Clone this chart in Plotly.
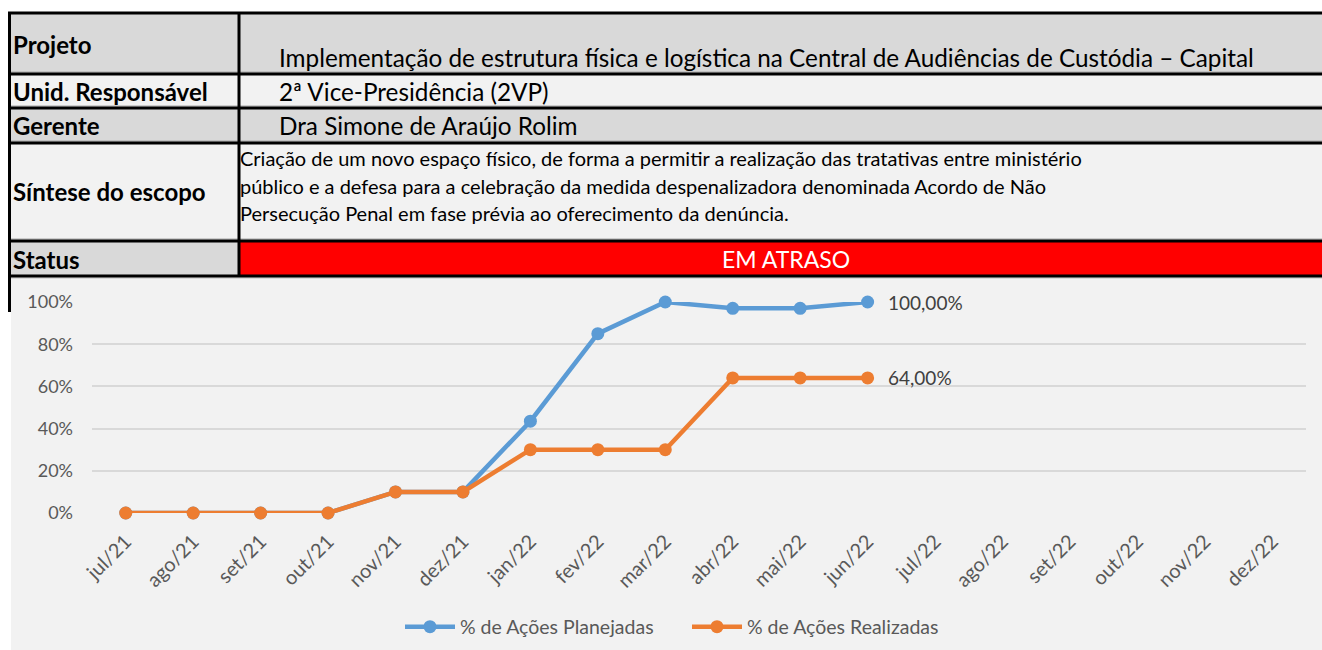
import plotly.graph_objects as go

W, H = 1322, 650

# ---- data ----
months = ["jul/21", "ago/21", "set/21", "out/21", "nov/21", "dez/21",
          "jan/22", "fev/22", "mar/22", "abr/22", "mai/22", "jun/22",
          "jul/22", "ago/22", "set/22", "out/22", "nov/22", "dez/22"]
planned = [0.0, 0.0, 0.0, 0.0, 0.10, 0.10, 0.435, 0.85, 1.00, 0.97, 0.97, 1.00]
realized = [0.0, 0.0, 0.0, 0.0, 0.10, 0.10, 0.30, 0.30, 0.30, 0.64, 0.64, 0.64]
series_names = ["% de Ações Planejadas", "% de Ações Realizadas"]
row_labels = ["Projeto", "Unid. Responsável", "Gerente", "Síntese do escopo", "Status"]
projeto = "Implementação de estrutura física e logística na Central de Audiências de Custódia – Capital"
unidade = "2ª Vice-Presidência (2VP)"
gerente = "Dra Simone de Araújo Rolim"
sintese = ["Criação de um novo espaço físico, de forma a permitir a realização das tratativas entre ministério",
           "público e a defesa para a celebração da medida despenalizadora denominada Acordo de Não",
           "Persecução Penal em fase prévia ao oferecimento da denúncia."]
status = "EM ATRASO"

FONT = "Lato"
BLUE = "#5b9bd5"
ORANGE = "#ed7d31"
GREY_TXT = "#595959"


def px(x):
    return x / W


def py(y):
    return 1 - y / H


fig = go.Figure()
fig.add_trace(go.Scatter(x=months[:len(planned)], y=planned, name=series_names[0],
                         mode="lines+markers", line=dict(color=BLUE, width=4.5),
                         marker=dict(size=13, color=BLUE), cliponaxis=False))
fig.add_trace(go.Scatter(x=months[:len(realized)], y=realized, name=series_names[1],
                         mode="lines+markers", line=dict(color=ORANGE, width=4.5),
                         marker=dict(size=13, color=ORANGE), cliponaxis=False))
# invisible trace to keep all categories on the axis
fig.add_trace(go.Scatter(x=months, y=[None] * len(months), showlegend=False,
                         hoverinfo="skip", mode="markers"))

shapes = []
# chart outer background
shapes.append(dict(type="rect", xref="paper", yref="paper", x0=px(11), x1=px(W),
                   y0=py(H), y1=py(277), fillcolor="#f2f2f2", line=dict(width=0), layer="below"))

# table rows
rows = [(13, 74, "#d9d9d9", "#d9d9d9"),
        (74, 108, "#f2f2f2", "#f2f2f2"),
        (108, 143, "#d9d9d9", "#d9d9d9"),
        (143, 241, "#f2f2f2", "#f2f2f2"),
        (241, 276, "#d9d9d9", "#ff0000")]
COLX = 239
for (y0, y1, cl, cr) in rows:
    shapes.append(dict(type="rect", xref="paper", yref="paper", x0=px(10), x1=px(COLX),
                       y0=py(y1), y1=py(y0), fillcolor=cl, line=dict(width=0), layer="below"))
    shapes.append(dict(type="rect", xref="paper", yref="paper", x0=px(COLX), x1=px(W),
                       y0=py(y1), y1=py(y0), fillcolor=cr, line=dict(width=0), layer="below"))
# thin grey lines above black borders
for y in [72, 106, 141, 239]:
    shapes.append(dict(type="line", xref="paper", yref="paper", x0=px(10), x1=px(W),
                       y0=py(y), y1=py(y), line=dict(color="#a6a6a6", width=1), layer="below"))
shapes.append(dict(type="line", xref="paper", yref="paper", x0=px(10), x1=px(W),
                   y0=py(278), y1=py(278), line=dict(color="#d9d9d9", width=2), layer="below"))
# black borders
for y in [13, 74, 108, 143, 241, 276]:
    shapes.append(dict(type="line", xref="paper", yref="paper", x0=px(8), x1=px(W),
                       y0=py(y), y1=py(y), line=dict(color="black", width=3)))
shapes.append(dict(type="line", xref="paper", yref="paper", x0=px(COLX), x1=px(COLX),
                   y0=py(276), y1=py(13), line=dict(color="black", width=3)))
shapes.append(dict(type="line", xref="paper", yref="paper", x0=px(9.5), x1=px(9.5),
                   y0=py(312), y1=py(12), line=dict(color="black", width=3)))

annotations = []
label_y = [44, 92, 126, 192, 259]
for lab, y in zip(row_labels, label_y):
    annotations.append(dict(text="<b>" + lab + "</b>", xref="paper", yref="paper", x=px(11), y=py(y),
                            xanchor="left", yanchor="middle", showarrow=False,
                            font=dict(family=FONT, size=24, color="black")))
for txt, y in [(projeto, 58), (unidade, 92), (gerente, 126)]:
    annotations.append(dict(text=txt, xref="paper", yref="paper", x=px(277), y=py(y),
                            xanchor="left", yanchor="middle", showarrow=False,
                            font=dict(family=FONT, size=24.3, color="black")))
for txt, y in zip(sintese, [158, 186, 213]):
    annotations.append(dict(text=txt, xref="paper", yref="paper", x=px(238), y=py(y),
                            xanchor="left", yanchor="middle", showarrow=False,
                            font=dict(family=FONT, size=20, color="black")))
annotations.append(dict(text=status, xref="paper", yref="paper", x=px(786), y=py(259),
                        xanchor="center", yanchor="middle", showarrow=False,
                        font=dict(family=FONT, size=23, color="white")))
# data labels for last points
for vals in [planned, realized]:
    annotations.append(dict(text=f"{vals[-1]*100:.2f}%".replace(".", ","),
                            x=months[len(vals) - 1], y=vals[-1], xref="x", yref="y",
                            xanchor="left", yanchor="middle", xshift=18, showarrow=False,
                            font=dict(family=FONT, size=19, color="#404040")))

fig.update_layout(
    width=W, height=H, margin=dict(l=0, r=0, t=0, b=0, autoexpand=False),
    paper_bgcolor="white", plot_bgcolor="#eff0f4",
    font=dict(family=FONT, size=18, color=GREY_TXT),
    shapes=shapes, annotations=annotations,
    showlegend=True,
    legend=dict(orientation="h", x=px(400), y=py(627), xanchor="left", yanchor="middle",
                font=dict(family=FONT, size=19.5, color=GREY_TXT), bgcolor="rgba(0,0,0,0)",
                itemwidth=50, entrywidth=222),
    xaxis=dict(domain=[px(92), px(1306)], type="category", categoryorder="array",
               categoryarray=months, range=[-0.5, len(months) - 0.5], automargin=False,
               showgrid=False, zeroline=False, showline=False, ticks="",
               ticklabelstandoff=12,
               tickangle=-45, tickfont=dict(family=FONT, size=20, color=GREY_TXT)),
    yaxis=dict(domain=[py(513), py(302)], range=[0, 1], dtick=0.2, tickformat=".0%",
               showgrid=True, gridcolor="#d9d9d9", gridwidth=2, zeroline=False,
               showline=False, ticks="", ticklabelstandoff=18, automargin=False,
               tickfont=dict(family=FONT, size=18, color=GREY_TXT)),
    hovermode=False,
)

fig.write_html("out.html", config={"displayModeBar": False},
               post_script="document.body.style.margin='0px';document.body.style.overflow='hidden';")
